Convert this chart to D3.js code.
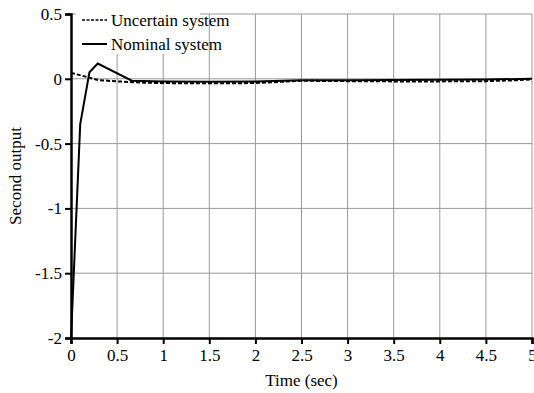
<!DOCTYPE html>
<html>
<head>
<meta charset="utf-8">
<script src="https://cdn.jsdelivr.net/npm/d3@7"></script>
<style>
  body { margin: 0; background: #fff; }
  text { font-family: "Liberation Serif", "Times New Roman", serif; }
</style>
</head>
<body>
<div id="chart"></div>
<script>
(function(d3) {
  'use strict';

  var width = 534;
  var height = 393;

  // data
  var nominalT = [0, 0.1, 0.2, 0.29, 0.66, 1, 1.5, 2, 2.5, 3, 3.5, 4, 4.5, 5];
  var nominalY = [-2, -0.35, 0.05, 0.118, -0.015, -0.02, -0.022, -0.02, -0.012, -0.012, -0.01, -0.008, -0.005, 0];
  var uncertainT = [0, 0.3, 0.5, 0.8, 1, 1.5, 2, 2.5, 3, 3.5, 4, 4.5, 4.8, 5];
  var uncertainY = [0.046, -0.01, -0.02, -0.03, -0.033, -0.035, -0.033, -0.015, -0.018, -0.02, -0.02, -0.018, -0.012, -0.005];
  var xTicks = [0, 0.5, 1, 1.5, 2, 2.5, 3, 3.5, 4, 4.5, 5];
  var yTicks = [-2, -1.5, -1, -0.5, 0, 0.5];
  var legendLabels = ['Uncertain system', 'Nominal system'];

  var margin = {top: 14, right: 2, bottom: 55, left: 71};

  var x = d3.scaleLinear().domain([0, 5]).range([margin.left, width - margin.right]);
  var y = d3.scaleLinear().domain([-2, 0.5]).range([height - margin.bottom, margin.top]);

  var svg = d3.select('#chart')
              .append('svg')
              .attr('width', width)
              .attr('height', height);

  // grid
  svg.append('g')
     .selectAll('line')
     .data(xTicks.slice(1))
     .enter()
     .append('line')
     .attr('x1', function(d) { return x(d); })
     .attr('x2', function(d) { return x(d); })
     .attr('y1', y(0.5))
     .attr('y2', y(-2))
     .style('stroke', '#999')
     .style('stroke-width', 1);

  svg.append('g')
     .selectAll('line')
     .data(yTicks.slice(1))
     .enter()
     .append('line')
     .attr('x1', x(0))
     .attr('x2', x(5))
     .attr('y1', function(d) { return y(d); })
     .attr('y2', function(d) { return y(d); })
     .style('stroke', '#999')
     .style('stroke-width', 1);

  // legend box hides part of the grid
  svg.append('rect')
     .attr('x', 76).attr('y', 8)
     .attr('width', 124).attr('height', 46)
     .style('fill', '#fff');

  // axes
  var xAxis = svg.append('g')
     .attr('transform', 'translate(0,' + y(-2) + ')')
     .call(d3.axisBottom(x).tickValues(xTicks).tickSize(6).tickPadding(5)
       .tickFormat(function(d) { return String(d); }));

  var yAxis = svg.append('g')
     .attr('transform', 'translate(' + x(0) + ',0)')
     .call(d3.axisLeft(y).tickValues(yTicks).tickSize(6).tickPadding(3)
       .tickFormat(function(d) { return String(d); }));

  [xAxis, yAxis].forEach(function(a) {
    a.select('.domain').style('stroke', '#000').style('stroke-width', 2.5);
    a.selectAll('.tick line').style('stroke', '#000').style('stroke-width', 2);
    a.selectAll('.tick text')
     .style('font-family', '"Liberation Serif", serif')
     .style('font-size', '17px')
     .style('fill', '#000');
  });

  // curves
  var line = d3.line()
    .x(function(d) { return x(d[0]); })
    .y(function(d) { return y(d[1]); });

  var uncertain = uncertainT.map(function(t, i) { return [t, uncertainY[i]]; });
  var nominal = nominalT.map(function(t, i) { return [t, nominalY[i]]; });

  svg.append('path')
     .datum(uncertain)
     .attr('d', line)
     .style('fill', 'none')
     .style('stroke', '#000')
     .style('stroke-width', 2)
     .style('stroke-dasharray', '4,2');

  svg.append('path')
     .datum(nominal)
     .attr('d', line)
     .style('fill', 'none')
     .style('stroke', '#000')
     .style('stroke-width', 2);

  // legend
  var legend = svg.append('g');
  legendLabels.forEach(function(lbl, i) {
    var ly = 20 + i * 24;
    legend.append('line')
          .attr('x1', 82).attr('x2', 107)
          .attr('y1', ly).attr('y2', ly)
          .style('stroke', '#000')
          .style('stroke-width', i === 0 ? 1.5 : 2)
          .style('stroke-dasharray', i === 0 ? '3,1.5' : null);
    legend.append('text')
          .attr('x', 111).attr('y', ly + 6)
          .style('font-size', '17px')
          .text(lbl);
  });

  // axis titles
  svg.append('text')
     .attr('x', (x(0) + x(5)) / 2)
     .attr('y', 386)
     .attr('text-anchor', 'middle')
     .style('font-size', '17px')
     .text('Time (sec)');

  svg.append('text')
     .attr('transform', 'translate(21,' + y(-0.75) + ') rotate(-90)')
     .attr('text-anchor', 'middle')
     .style('font-size', '17px')
     .text('Second output');

})(window.d3);
</script>
</body>
</html>
